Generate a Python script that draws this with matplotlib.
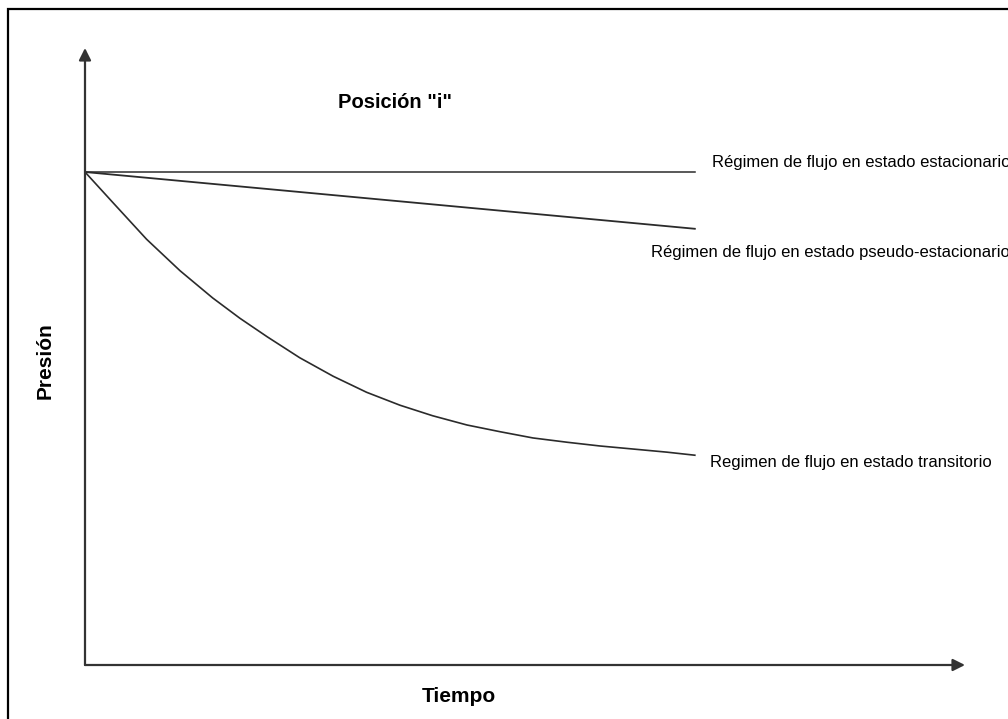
import numpy as np
import matplotlib.pyplot as plt
from matplotlib.patches import Rectangle

plt.rcParams['font.family'] = ['Liberation Sans', 'DejaVu Sans']

# schematic curves: time vs pressure (arbitrary units, 0-10)
t_estacionario = [0.0, 6.93]
p_estacionario = [7.99, 7.99]

t_pseudo = [0.0, 6.93]
p_pseudo = [7.99, 7.07]

t_transitorio = [0.00, 0.32, 0.70, 1.08, 1.45, 1.76, 2.07, 2.44, 2.82, 3.20,
                 3.58, 3.95, 4.34, 4.72, 5.09, 5.48, 5.85, 6.23, 6.61, 6.93]
p_transitorio = [7.99, 7.49, 6.90, 6.39, 5.95, 5.62, 5.32, 4.98, 4.68, 4.42,
                 4.21, 4.04, 3.89, 3.78, 3.68, 3.61, 3.55, 3.50, 3.45, 3.40]

labels = ['Régimen de flujo en estado estacionario',
          'Régimen de flujo en estado pseudo-estacionario',
          'Regimen de flujo en estado transitorio']

W, H = 1008, 719
fig = plt.figure(figsize=(W / 100, H / 100), dpi=100)

# outer frame (runs off the right and bottom edge)
fig.patches.append(Rectangle((8 / W, -0.1), 1.2, 1.1 - 9 / H,
                             transform=fig.transFigure, fill=False,
                             edgecolor='black', linewidth=1.6))

ax = fig.add_axes([85 / W, (H - 665) / H, (965 - 85) / W, (665 - 48) / H])
ax.set_xlim(0, 10)
ax.set_ylim(0, 10)
ax.axis('off')

line_col = '#2b2b2b'
ax.plot(t_estacionario, p_estacionario, color=line_col, lw=1.1)
ax.plot(t_pseudo, p_pseudo, color=line_col, lw=1.3)
ax.plot(t_transitorio, p_transitorio, color=line_col, lw=1.2,
        solid_joinstyle='round')

# axes with arrows
arrow = dict(arrowstyle='-|>', color='#333333', lw=1.6, mutation_scale=18,
             shrinkA=0, shrinkB=0)
ax.annotate('', xy=(1, 0), xytext=(0, 0), xycoords='axes fraction',
            arrowprops=arrow, annotation_clip=False)
ax.annotate('', xy=(0, 1), xytext=(0, 0), xycoords='axes fraction',
            arrowprops=arrow, annotation_clip=False)

ax.text(7.12, 8.14, labels[0], fontsize=12, va='center', ha='left', clip_on=False)
ax.text(6.43, 6.69, labels[1], fontsize=12, va='center', ha='left', clip_on=False)
ax.text(7.10, 3.29, labels[2], fontsize=12, va='center', ha='left', clip_on=False)

ax.text(3.52, 9.11, 'Posición "i"', fontsize=14.5, fontweight='bold',
        ha='center', va='center')

fig.text(459 / W, 1 - 697 / H, 'Tiempo', fontsize=15, fontweight='bold',
         ha='center', va='center')
fig.text(45 / W, 1 - 361 / H, 'Presión', fontsize=15, fontweight='bold',
         rotation=90, ha='center', va='center')

fig.savefig('out.png', dpi=100, facecolor='white')
